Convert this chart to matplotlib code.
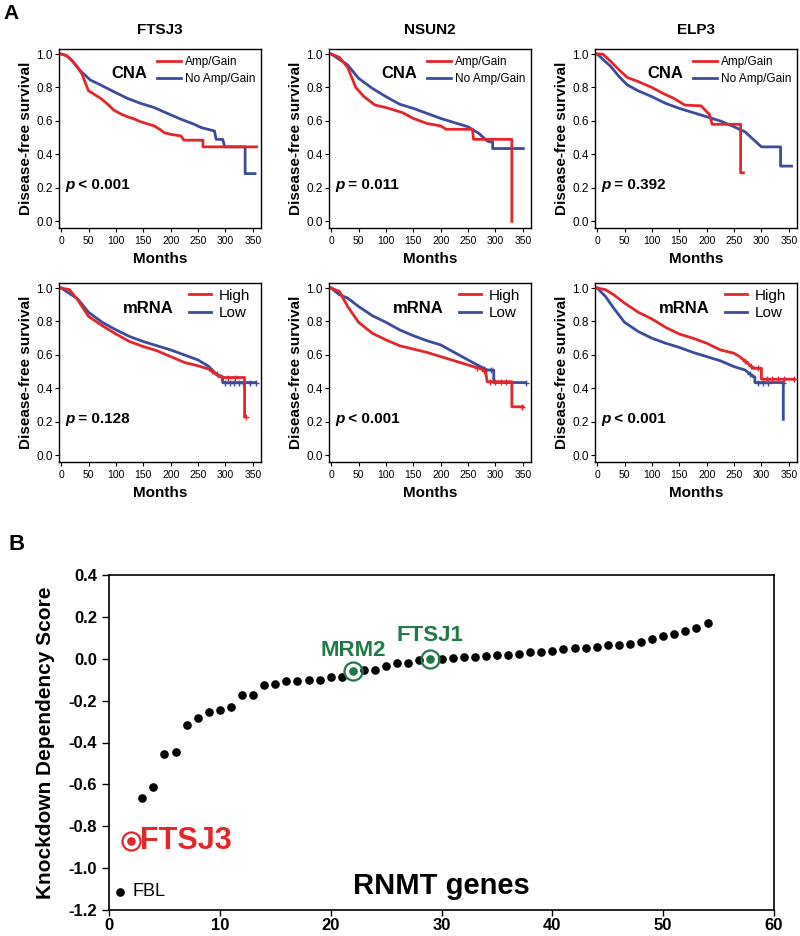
import matplotlib
matplotlib.use("Agg")
import matplotlib.pyplot as plt
import numpy as np

plt.rcParams['font.family'] = ['Liberation Sans', 'DejaVu Sans']

RED = '#e3262b'
BLUE = '#3b4c9b'
GREEN = '#1f7a48'

genes = ['FTSJ3', 'NSUN2', 'ELP3']

# ---- panel A: Kaplan-Meier curves (months, survival) ----
# CNA row: Amp/Gain (red) vs No Amp/Gain (blue)
ftsj3_cna_amp_t = [0, 10, 20, 30, 38, 45, 50, 60, 72, 85, 96, 110, 121, 135, 145, 160, 170, 180, 188, 200, 219, 224, 259, 259, 357]
ftsj3_cna_amp_s = [1, 0.99, 0.96, 0.92, 0.88, 0.82, 0.78, 0.76, 0.735, 0.70, 0.665, 0.64, 0.625, 0.61, 0.595, 0.58, 0.57, 0.55, 0.53, 0.52, 0.51, 0.485, 0.485, 0.445, 0.445]
ftsj3_cna_no_t = [0, 10, 20, 35, 53, 72, 96, 121, 145, 170, 194, 219, 243, 256, 274, 280, 283, 295, 299, 336, 336, 354]
ftsj3_cna_no_s = [1, 0.99, 0.96, 0.90, 0.845, 0.815, 0.775, 0.735, 0.705, 0.68, 0.645, 0.61, 0.58, 0.56, 0.545, 0.54, 0.49, 0.49, 0.445, 0.445, 0.285, 0.285]

nsun2_cna_amp_t = [0, 15, 30, 45, 60, 80, 100, 130, 150, 175, 200, 210, 258, 260, 330, 330]
nsun2_cna_amp_s = [1, 0.98, 0.92, 0.80, 0.745, 0.695, 0.68, 0.65, 0.615, 0.585, 0.57, 0.55, 0.55, 0.49, 0.49, 0.0]
nsun2_cna_no_t = [0, 30, 50, 75, 100, 125, 150, 175, 200, 225, 250, 270, 285, 290, 295, 295, 351]
nsun2_cna_no_s = [1, 0.935, 0.855, 0.795, 0.745, 0.70, 0.675, 0.645, 0.615, 0.59, 0.565, 0.525, 0.48, 0.475, 0.475, 0.435, 0.435]

elp3_cna_amp_t = [0, 10, 25, 40, 55, 75, 100, 120, 140, 160, 190, 200, 205, 210, 262, 262, 267]
elp3_cna_amp_s = [1, 1, 0.955, 0.905, 0.86, 0.835, 0.80, 0.765, 0.735, 0.695, 0.69, 0.655, 0.64, 0.58, 0.58, 0.29, 0.29]
elp3_cna_no_t = [0, 25, 40, 55, 75, 100, 125, 150, 175, 200, 225, 250, 270, 280, 290, 300, 335, 335, 355]
elp3_cna_no_s = [1, 0.925, 0.865, 0.815, 0.78, 0.745, 0.705, 0.675, 0.65, 0.625, 0.60, 0.565, 0.535, 0.505, 0.475, 0.445, 0.445, 0.33, 0.33]

# mRNA row: High (red) vs Low (blue)
ftsj3_mrna_hi_t = [0, 15, 30, 50, 75, 100, 125, 150, 175, 200, 225, 250, 270, 285, 295, 335, 335]
ftsj3_mrna_hi_s = [1, 0.99, 0.93, 0.83, 0.775, 0.725, 0.68, 0.65, 0.625, 0.59, 0.555, 0.535, 0.515, 0.48, 0.465, 0.465, 0.23]
ftsj3_mrna_lo_t = [0, 30, 50, 75, 100, 125, 150, 175, 200, 225, 250, 270, 280, 290, 295, 295, 355]
ftsj3_mrna_lo_s = [1, 0.935, 0.855, 0.795, 0.75, 0.71, 0.68, 0.655, 0.63, 0.60, 0.57, 0.53, 0.495, 0.47, 0.47, 0.435, 0.435]

nsun2_mrna_hi_t = [0, 15, 30, 50, 75, 100, 125, 150, 175, 200, 225, 250, 275, 282, 285, 330, 330, 350]
nsun2_mrna_hi_s = [1, 0.98, 0.89, 0.795, 0.73, 0.69, 0.655, 0.635, 0.615, 0.59, 0.565, 0.54, 0.515, 0.50, 0.44, 0.44, 0.29, 0.29]
nsun2_mrna_lo_t = [0, 15, 30, 50, 75, 100, 125, 150, 175, 200, 225, 250, 270, 285, 297, 297, 355]
nsun2_mrna_lo_s = [1, 0.96, 0.94, 0.89, 0.835, 0.795, 0.75, 0.715, 0.685, 0.66, 0.615, 0.57, 0.535, 0.51, 0.51, 0.435, 0.435]

elp3_mrna_hi_t = [0, 15, 30, 50, 75, 100, 125, 150, 175, 200, 225, 250, 260, 275, 285, 300, 300, 360]
elp3_mrna_hi_s = [1, 0.99, 0.96, 0.91, 0.855, 0.815, 0.765, 0.725, 0.70, 0.67, 0.63, 0.61, 0.59, 0.55, 0.52, 0.52, 0.455, 0.455]
elp3_mrna_lo_t = [0, 15, 30, 50, 75, 100, 125, 150, 175, 200, 225, 250, 270, 285, 288, 288, 340, 340]
elp3_mrna_lo_s = [1, 0.95, 0.88, 0.795, 0.74, 0.70, 0.67, 0.645, 0.615, 0.59, 0.565, 0.53, 0.51, 0.47, 0.47, 0.435, 0.435, 0.215]

# censored times on the mRNA curves
ftsj3_cens_hi = [276, 292, 305, 318, 338]
ftsj3_cens_lo = [284, 300, 308, 316, 324, 332, 345, 355]
nsun2_cens_hi = [266, 279, 290, 300, 310, 320, 348]
nsun2_cens_lo = [280, 292, 355]
elp3_cens_hi = [270, 281, 293, 310, 320, 330, 342, 360]
elp3_cens_lo = [280, 294, 303, 312, 339]

cna_pvals = ['p < 0.001', 'p = 0.011', 'p = 0.392']
mrna_pvals = ['p = 0.128', 'p < 0.001', 'p < 0.001']

# ---- panel B: knockdown dependency scores of 54 RNMT genes (sorted) ----
rnmt_scores = [-1.113, -0.872, -0.664, -0.612, -0.456, -0.443, -0.317, -0.281, -0.256, -0.245,
               -0.232, -0.175, -0.171, -0.125, -0.122, -0.108, -0.106, -0.103, -0.100, -0.087,
               -0.086, -0.059, -0.056, -0.052, -0.034, -0.021, -0.018, -0.005, -0.001, 0.001,
               0.004, 0.007, 0.009, 0.011, 0.017, 0.019, 0.022, 0.030, 0.033, 0.037,
               0.045, 0.050, 0.052, 0.055, 0.064, 0.067, 0.071, 0.082, 0.094, 0.108,
               0.119, 0.134, 0.145, 0.171]
highlight = {'FTSJ3': (2, RED), 'MRM2': (22, GREEN), 'FTSJ1': (29, GREEN)}

fig = plt.figure(figsize=(8, 9.36), dpi=100)

cna_curves = [
    (ftsj3_cna_amp_t, ftsj3_cna_amp_s, ftsj3_cna_no_t, ftsj3_cna_no_s),
    (nsun2_cna_amp_t, nsun2_cna_amp_s, nsun2_cna_no_t, nsun2_cna_no_s),
    (elp3_cna_amp_t, elp3_cna_amp_s, elp3_cna_no_t, elp3_cna_no_s),
]
mrna_curves = [
    (ftsj3_mrna_hi_t, ftsj3_mrna_hi_s, ftsj3_mrna_lo_t, ftsj3_mrna_lo_s, ftsj3_cens_hi, ftsj3_cens_lo),
    (nsun2_mrna_hi_t, nsun2_mrna_hi_s, nsun2_mrna_lo_t, nsun2_mrna_lo_s, nsun2_cens_hi, nsun2_cens_lo),
    (elp3_mrna_hi_t, elp3_mrna_hi_s, elp3_mrna_lo_t, elp3_mrna_lo_s, elp3_cens_hi, elp3_cens_lo),
]

lefts = [59, 329, 595]
row_tops = [49, 283]
W, H = 202, 179


def fmt(vals):
    return ['%.1f' % (round(v, 1) + 0.0) for v in vals]


def km_axes(left, top):
    ax = fig.add_axes([left / 800, 1 - (top + H) / 936, W / 800, H / 936])
    ax.set_xlim(-4, 365)
    ax.set_ylim(-0.04, 1.03)
    ax.set_xticks(range(0, 351, 50))
    yt = np.arange(0, 1.01, 0.2)
    ax.set_yticks(yt)
    ax.set_yticklabels(fmt(yt))
    ax.tick_params(axis='x', labelsize=7.5, length=3, width=0.8, pad=3)
    ax.tick_params(axis='y', labelsize=8.5, length=3, width=0.8, pad=1.5)
    ax.set_xlabel('Months', fontsize=11, fontweight='bold', labelpad=4)
    ax.set_ylabel('Disease-free survival', fontsize=11, fontweight='bold', labelpad=2)
    for sp in ax.spines.values():
        sp.set_linewidth(1.0)
    return ax


def pval(ax, txt):
    t = ax.text(0.03, 0.24, txt[0], transform=ax.transAxes, fontsize=11,
                fontweight='bold', style='italic', va='center')
    ax.annotate(txt[1:], xy=(1, 0), xycoords=t, va='bottom', fontsize=11,
                fontweight='bold')


for i in range(3):
    at, as_, nt, ns = cna_curves[i]
    ax = km_axes(lefts[i], row_tops[0])
    ax.plot(nt, ns, color=BLUE, lw=2, label='No Amp/Gain', zorder=2)
    ax.plot(at, as_, color=RED, lw=2, label='Amp/Gain', zorder=3)
    h, l = ax.get_legend_handles_labels()
    ax.legend(h[::-1], l[::-1], loc='upper left', bbox_to_anchor=(0.45, 1.0),
              frameon=False, fontsize=8.5, handlelength=2.0, handletextpad=0.4,
              labelspacing=0.45, borderaxespad=0.2)
    ax.text(0.35, 0.865, 'CNA', transform=ax.transAxes, fontsize=12,
            fontweight='bold', ha='center', va='center')
    pval(ax, cna_pvals[i])
    ax.set_title(genes[i], fontsize=11, fontweight='bold', pad=11)

for i in range(3):
    ht, hs, lt, ls, ch, cl = mrna_curves[i]
    ax = km_axes(lefts[i], row_tops[1])
    ax.plot(lt, ls, color=BLUE, lw=2, label='Low', zorder=2)
    ax.plot(ht, hs, color=RED, lw=2, label='High', zorder=3)
    ax.plot(cl, np.interp(cl, lt, ls), ls='none', marker='+', ms=5, mew=1,
            color=BLUE, zorder=2)
    ax.plot(ch, np.interp(ch, ht, hs), ls='none', marker='+', ms=5, mew=1,
            color=RED, zorder=3)
    h, l = ax.get_legend_handles_labels()
    ax.legend(h[::-1], l[::-1], loc='upper left', bbox_to_anchor=(0.6, 1.02),
              frameon=False, fontsize=11, handlelength=1.4, handletextpad=0.5,
              labelspacing=0.25, borderaxespad=0.2)
    ax.text(0.44, 0.855, 'mRNA', transform=ax.transAxes, fontsize=12,
            fontweight='bold', ha='center', va='center')
    pval(ax, mrna_pvals[i])

fig.text(0.004, 0.986, 'A', fontsize=15, fontweight='bold', va='center')
fig.text(0.010, 0.418, 'B', fontsize=16, fontweight='bold', va='center')

# ---- panel B ----
axb = fig.add_axes([109 / 800, 1 - 910 / 936, 665 / 800, 335 / 936])
x = np.arange(1, len(rnmt_scores) + 1)
y = np.array(rnmt_scores)
hl_idx = [v[0] for v in highlight.values()]
plain = [k for k in range(len(x)) if x[k] not in hl_idx]
axb.plot(x[plain], y[plain], 'o', color='black', ms=5.2, ls='none')
for name, (idx, col) in highlight.items():
    axb.plot(x[idx - 1], y[idx - 1], 'o', color=col, ms=5.2)
    axb.plot(x[idx - 1], y[idx - 1], 'o', mfc='none', mec=col, ms=13, mew=1.6)

axb.text(x[1] + 0.8, y[1], 'FTSJ3', color=RED, fontsize=22, fontweight='bold',
         va='center', ha='left')
axb.text(x[21], y[21] + 0.097, 'MRM2', color=GREEN, fontsize=16, fontweight='bold',
         ha='center', va='center')
axb.text(x[28], y[28] + 0.11, 'FTSJ1', color=GREEN, fontsize=16, fontweight='bold',
         ha='center', va='center')
axb.text(x[0] + 1.1, y[0], 'FBL', color='black', fontsize=13, va='center', ha='left')
axb.text(30, -1.083, 'RNMT genes', fontsize=21, fontweight='bold',
         ha='center', va='center')

axb.set_xlim(0, 60)
axb.set_ylim(-1.2, 0.4)
axb.set_xticks(range(0, 61, 10))
ybt = np.arange(-1.2, 0.41, 0.2)
axb.set_yticks(ybt)
axb.set_yticklabels(fmt(ybt))
axb.tick_params(axis='y', labelsize=12, length=5, width=1)
axb.tick_params(axis='x', labelsize=12, length=4, width=1, pad=1.5)
for lab in axb.get_xticklabels() + axb.get_yticklabels():
    lab.set_fontweight('bold')
axb.set_ylabel('Knockdown Dependency Score', fontsize=15, fontweight='bold', labelpad=10)
for sp in axb.spines.values():
    sp.set_linewidth(1.2)

fig.savefig('out.png', dpi=100)
